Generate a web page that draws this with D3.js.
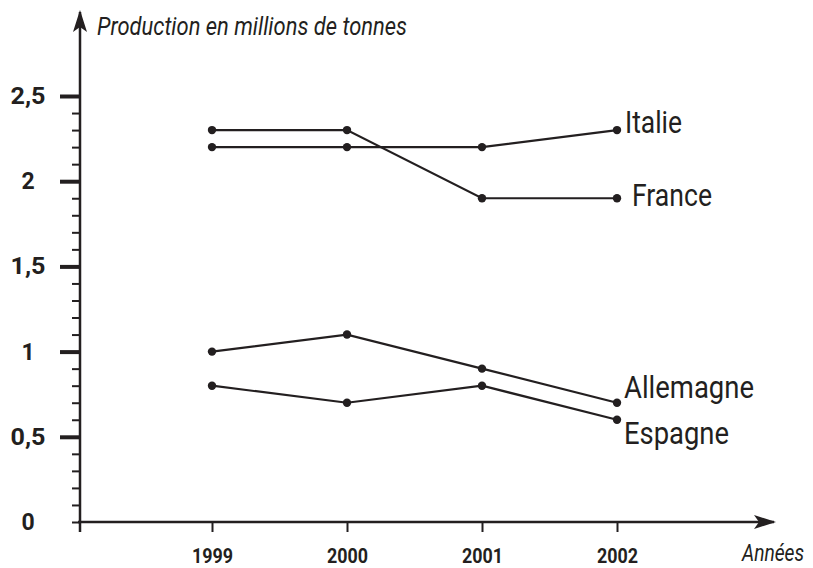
<!DOCTYPE html>
<html>
<head>
<meta charset="utf-8">
<script src="https://cdn.jsdelivr.net/npm/d3@7"></script>
<style>
  body { margin: 0; background: #fff; }
  text { font-family: Roboto, "Liberation Sans", sans-serif; fill: #231f20; }
</style>
</head>
<body>
<div id="chart"></div>
<script>
// Data
const years = [1999, 2000, 2001, 2002];
const italie = [2.2, 2.2, 2.2, 2.3];
const france = [2.3, 2.3, 1.9, 1.9];
const allemagne = [1.0, 1.1, 0.9, 0.7];
const espagne = [0.8, 0.7, 0.8, 0.6];
const seriesNames = ["Italie", "France", "Allemagne", "Espagne"];
const majorTicks = [0.5, 1, 1.5, 2, 2.5];
const tickLabels = ["0", "0,5", "1", "1,5", "2", "2,5"];

const width = 813, height = 568;
const ink = "#231f20";

const x = d3.scaleLinear().domain([1999, 2002]).range([212, 617]);
const y = d3.scaleLinear().domain([0, 2.5]).range([522, 96]);

const svg = d3.select("#chart").append("svg")
    .attr("width", width)
    .attr("height", height);

// Arrow heads
const defs = svg.append("defs");
defs.append("marker")
    .attr("id", "arrow")
    .attr("viewBox", "0 0 22 14")
    .attr("refX", 20).attr("refY", 7)
    .attr("markerWidth", 22).attr("markerHeight", 14)
    .attr("markerUnits", "userSpaceOnUse")
    .attr("orient", "auto")
    .append("path")
    .attr("d", "M0,0 L22,7 L0,14 L5,7 Z")
    .attr("fill", ink);

// Y axis with minor ticks every 0.1
const minorTicks = d3.range(0, 26).map(i => i / 10);
svg.append("g")
    .attr("transform", "translate(80,0)")
    .call(d3.axisLeft(y).tickValues(minorTicks).tickSize(8).tickFormat(""))
    .call(g => g.select(".domain").remove())
    .call(g => g.selectAll("line").attr("stroke", ink).attr("stroke-width", 2));

svg.append("g")
    .attr("transform", "translate(80,0)")
    .call(d3.axisLeft(y).tickValues(majorTicks).tickSize(20).tickFormat(""))
    .call(g => g.select(".domain").remove())
    .call(g => g.selectAll("line").attr("stroke", ink).attr("stroke-width", 4));

// Y tick labels
svg.append("g")
    .selectAll("text")
    .data(tickLabels)
    .join("text")
    .attr("x", 28)
    .attr("y", (d, i) => y(i * 0.5) + 8)
    .attr("text-anchor", "middle")
    .style("font-size", "23px")
    .style("font-weight", "bold")
    .each(function(d) {
        if (d.length > 1) d3.select(this).attr("textLength", 35).attr("lengthAdjust", "spacingAndGlyphs");
    })
    .text(d => d);

// X axis ticks and labels
svg.append("g")
    .attr("transform", "translate(0,522)")
    .call(d3.axisBottom(x).tickValues(years).tickSize(10).tickFormat(d3.format("d")))
    .call(g => g.select(".domain").remove())
    .call(g => g.selectAll("line").attr("stroke", ink).attr("stroke-width", 2))
    .call(g => g.selectAll("text")
        .attr("y", 41)
        .attr("dy", 0)
        .attr("textLength", 41)
        .attr("lengthAdjust", "spacingAndGlyphs")
        .style("font-size", "20px")
        .style("font-weight", "bold")
        .style("font-family", "Roboto, sans-serif")
        .attr("fill", ink));

// Axis lines with arrows
svg.append("line")
    .attr("x1", 80).attr("y1", 532)
    .attr("x2", 80).attr("y2", 12)
    .attr("stroke", ink).attr("stroke-width", 2.5)
    .attr("marker-end", "url(#arrow)");

svg.append("line")
    .attr("x1", 78).attr("y1", 522)
    .attr("x2", 774).attr("y2", 522)
    .attr("stroke", ink).attr("stroke-width", 2.5)
    .attr("marker-end", "url(#arrow)");

// Axis titles
svg.append("text")
    .attr("x", 97).attr("y", 35)
    .attr("textLength", 310)
    .attr("lengthAdjust", "spacingAndGlyphs")
    .style("font-size", "25px")
    .style("font-style", "italic")
    .text("Production en millions de tonnes");

// condensed with a horizontal scale so the box stays inside the page
svg.append("text")
    .attr("transform", "translate(742,561) scale(0.8,1)")
    .style("font-size", "24px")
    .style("font-style", "italic")
    .text("Années");

// Series
const series = [italie, france, allemagne, espagne].map((vals, i) => ({
    name: seriesNames[i],
    values: vals.map((v, j) => ({year: years[j], value: v}))
}));

const line = d3.line()
    .x(d => x(d.year))
    .y(d => y(d.value));

const seriesG = svg.append("g")
    .selectAll("g")
    .data(series)
    .join("g");

seriesG.append("path")
    .attr("d", d => line(d.values))
    .attr("fill", "none")
    .attr("stroke", ink)
    .attr("stroke-width", 2.2);

seriesG.selectAll("circle")
    .data(d => d.values)
    .join("circle")
    .attr("cx", d => x(d.year))
    .attr("cy", d => y(d.value))
    .attr("r", 4.2)
    .attr("fill", ink);

// Series labels at the end of each line
const labelStyle = {
    Italie: {dx: 8, dy: 3, len: 57},
    France: {dx: 15, dy: 8, len: 80},
    Allemagne: {dx: 7, dy: -5, len: 130},
    Espagne: {dx: 7, dy: 24, len: 105}
};
seriesG.append("text")
    .attr("x", d => x(2002) + labelStyle[d.name].dx)
    .attr("y", d => y(d.values[3].value) + labelStyle[d.name].dy)
    .attr("textLength", d => labelStyle[d.name].len)
    .attr("lengthAdjust", "spacingAndGlyphs")
    .style("font-size", "31px")
    .text(d => d.name);
</script>
</body>
</html>
